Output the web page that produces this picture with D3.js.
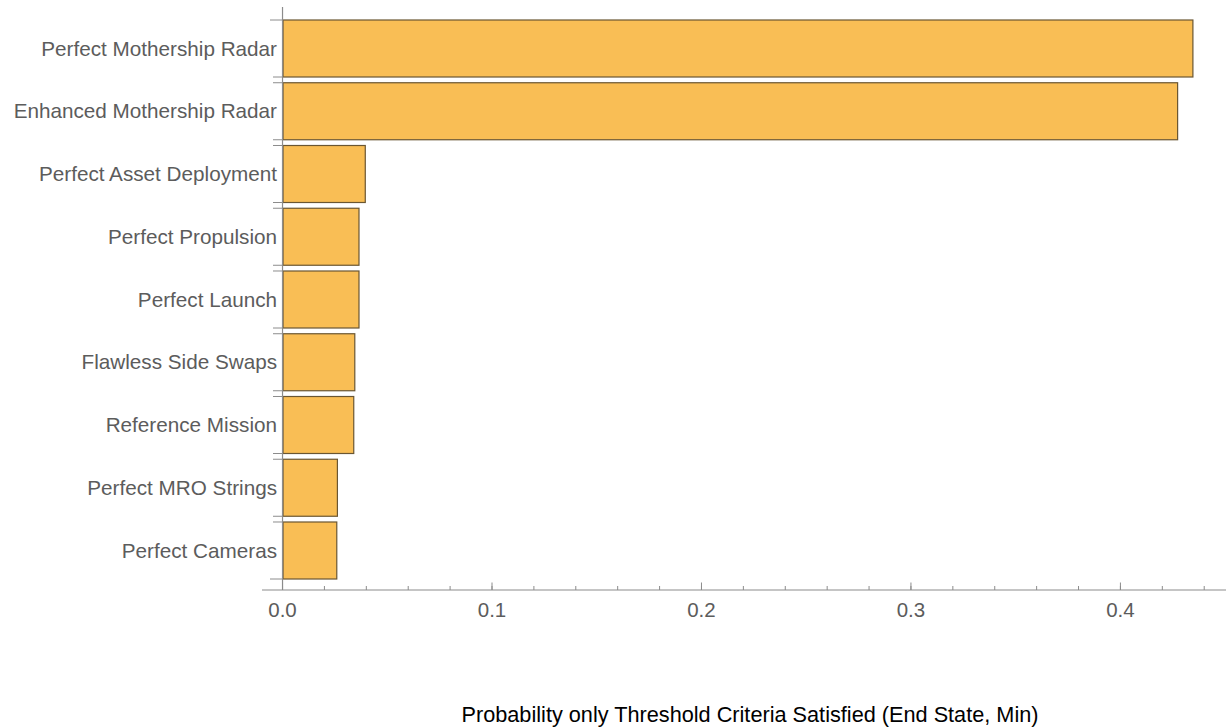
<!DOCTYPE html>
<html><head><meta charset="utf-8">
<script src="https://cdn.jsdelivr.net/npm/d3@7"></script>
<style>body{margin:0;background:#fff}svg{display:block}</style>
</head><body>
<svg id="c" width="1226" height="727"></svg>
<script>
const categories = ["Perfect Mothership Radar","Enhanced Mothership Radar","Perfect Asset Deployment","Perfect Propulsion","Perfect Launch","Flawless Side Swaps","Reference Mission","Perfect MRO Strings","Perfect Cameras"];
const values = [0.4346,0.4273,0.0395,0.0365,0.0365,0.0345,0.0340,0.0262,0.0259];
const xTicks = [0,0.1,0.2,0.3,0.4];
const xMinorTicks = d3.range(0,0.451,0.02);
const xTitle = "Probability only Threshold Criteria Satisfied (End State, Min)";

const svg = d3.select("#c");
const x = d3.scaleLinear().domain([-0.0098,0.4504]).range([262,1226]);
const y = d3.scaleBand().domain(categories).range([20,579]).paddingInner(0.0916).paddingOuter(0);
const axisColor = "#8c8c8c", labelColor = "#5c5c5c";
const font = "Liberation Sans, Arial, Helvetica, sans-serif";

// bars
svg.append("g").selectAll("rect").data(categories).join("rect")
  .attr("x", x(0)+0.5).attr("y", d=>y(d))
  .attr("width", (d,i)=>x(values[i])-x(0)-0.5).attr("height", y.bandwidth())
  .attr("fill","#F9BE55").attr("stroke","#6a5632").attr("stroke-width",1.2);

// y axis line
svg.append("line").attr("x1",x(0)).attr("x2",x(0)).attr("y1",7).attr("y2",590)
  .attr("stroke",axisColor).attr("stroke-width",1.2);
// y ticks at band edges
const edges = [];
categories.forEach(c=>{edges.push(y(c)); edges.push(y(c)+y.bandwidth());});
svg.append("g").selectAll("line").data(edges).join("line")
  .attr("x1",(d,i)=> (i===0||i===edges.length-1)?270:273).attr("x2",x(0))
  .attr("y1",d=>d).attr("y2",d=>d).attr("stroke",axisColor).attr("stroke-width",1);
// y labels
svg.append("g").selectAll("text").data(categories).join("text")
  .attr("x",277).attr("y",d=>y(d)+y.bandwidth()/2).attr("dy","0.35em")
  .attr("text-anchor","end").attr("font-family",font).attr("font-size",20.7)
  .attr("fill",labelColor).text(d=>d);

// x axis
const xAxisG = svg.append("g").attr("transform","translate(0,590)");
xAxisG.append("line").attr("x1",262).attr("x2",1226).attr("y1",0).attr("y2",0)
  .attr("stroke",axisColor).attr("stroke-width",1.2);
xAxisG.selectAll("line.minor").data(xMinorTicks).join("line").attr("class","minor")
  .attr("x1",d=>x(d)).attr("x2",d=>x(d)).attr("y1",-4).attr("y2",0)
  .attr("stroke",axisColor).attr("stroke-width",1);
xAxisG.selectAll("line.major").data(xTicks).join("line").attr("class","major")
  .attr("x1",d=>x(d)).attr("x2",d=>x(d)).attr("y1",-7.5).attr("y2",0)
  .attr("stroke",axisColor).attr("stroke-width",1);
xAxisG.selectAll("text").data(xTicks).join("text")
  .attr("x",d=>x(d)).attr("y",27).attr("text-anchor","middle")
  .attr("font-family",font).attr("font-size",20.5).attr("fill",labelColor)
  .text(d3.format(".1f"));

// x title
svg.append("text").attr("x",750).attr("y",722).attr("text-anchor","middle")
  .attr("font-family",font).attr("font-size",21.7).attr("fill","#000").text(xTitle);
</script>
</body></html>
